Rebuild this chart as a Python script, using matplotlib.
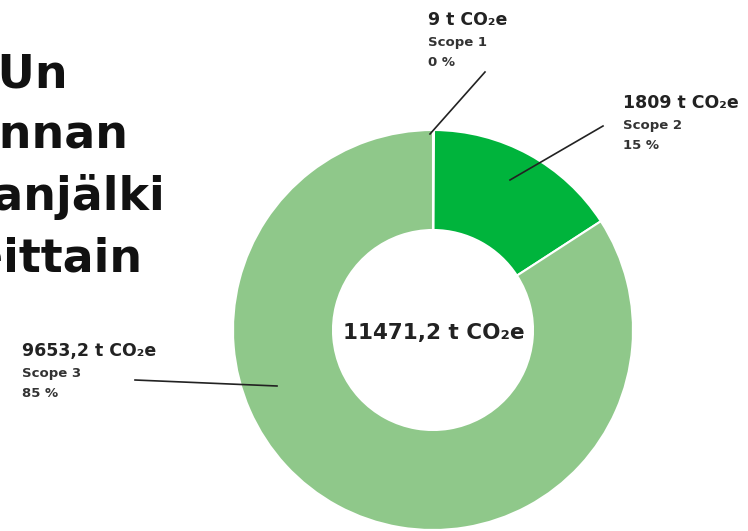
import matplotlib.pyplot as plt

# emissions by scope, t CO2e
scopes = ['Scope 1', 'Scope 2', 'Scope 3']
emissions = [9, 1809, 9653.2]
amount_labels = ['9 t CO₂e', '1809 t CO₂e', '9653,2 t CO₂e']
share_labels = ['0 %', '15 %', '85 %']
total_label = '11471,2 t CO₂e'
title_lines = ['XAMKUn', 'toiminnan', 'hiilijalanjälki', 'scopeittain']

colors = ['#2e7d32', '#00b43c', '#8fc88a']
W, H = 748, 531

fig = plt.figure(figsize=(W / 100, H / 100), dpi=100)
ax = fig.add_axes([0, 0, 1, 1])
ax.set_xlim(0, W)
ax.set_ylim(0, H)
ax.set_aspect('equal')
ax.axis('off')

cx, cy, r = 433, H - 330, 200
ax.pie(emissions, colors=colors, startangle=90, counterclock=False,
       center=(cx, cy), radius=r,
       wedgeprops=dict(width=r * 0.5, edgecolor='white', linewidth=1.5))
ax.set_xlim(0, W)
ax.set_ylim(0, H)

ax.text(cx + 1, cy - 3, total_label, ha='center', va='center', fontsize=15.5,
        fontweight='bold', color='#222222', family='DejaVu Sans')

# label blocks: (text x, top y) and leader line ends, in pixels from top-left
label_pos = [(428, 11), (623, 94), (22, 342)]
leaders = [((485, 72), (430, 134)), ((603, 126), (510, 180)), ((135, 380), (277, 386))]
for i in range(len(scopes)):
    x, y = label_pos[i]
    ax.text(x, H - y, amount_labels[i], ha='left', va='top', fontsize=12.5,
            fontweight='bold', color='#222222', family='DejaVu Sans')
    ax.text(x, H - y - 25, scopes[i], ha='left', va='top', fontsize=9.5,
            fontweight='bold', color='#333333', family='DejaVu Sans')
    ax.text(x, H - y - 45, share_labels[i], ha='left', va='top', fontsize=9.5,
            fontweight='bold', color='#333333', family='DejaVu Sans')
    (x0, y0), (x1, y1) = leaders[i]
    ax.plot([x0, x1], [H - y0, H - y1], color='#222222', lw=1.2)

# heading, partly cut off at the left edge
title_right = [68, 128, 165, 143]
title_base = [87, 148, 210, 272]
for line, xr, yb in zip(title_lines, title_right, title_base):
    ax.text(xr, H - yb, line, ha='right', va='baseline', fontsize=33,
            fontweight='bold', color='#111111', family='DejaVu Sans')

fig.savefig('out.png', dpi=100)
